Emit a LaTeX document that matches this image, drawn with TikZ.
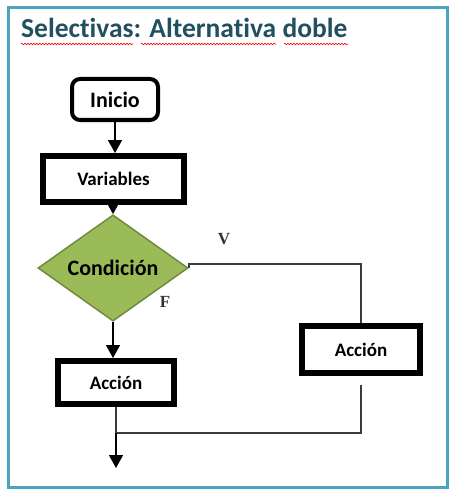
\documentclass[tikz,border=0pt]{standalone}
\usepackage{fontspec}
\newfontfamily\calibri[Ligatures=NoCommon]{Carlito}
\newfontfamily\timesfont{Liberation Serif}
\usepackage{tikz}
\usetikzlibrary{arrows.meta,positioning,shapes.geometric,calc,decorations.pathmorphing}
\definecolor{frameteal}{RGB}{75,165,190}
\definecolor{titleteal}{RGB}{33,80,96}
\definecolor{olivefill}{RGB}{155,187,89}
\definecolor{olivedraw}{RGB}{113,137,63}
\definecolor{linegray}{RGB}{60,60,60}

\begin{document}
\begin{tikzpicture}[x=1pt, y=-1pt,
  box/.style={rectangle, draw=black, line width=6pt, fill=white, inner sep=0pt,
              font=\calibri\fontsize{19}{22}\selectfont\bfseries},
  startbox/.style={box, rounded corners=8pt, line width=4pt,
              font=\calibri\fontsize{22}{25}\selectfont\bfseries},
  decision/.style={diamond, draw=olivedraw, line width=1.5pt, fill=olivefill, inner sep=0pt,
              minimum width=150pt, minimum height=93pt,
              font=\calibri\fontsize{22}{25}\selectfont\bfseries},
  arrow/.style={-{Triangle[width=14pt, length=13pt]}, line width=1.6pt, black},
  line/.style={line width=1.6pt, linegray},
  label/.style={font=\timesfont\fontsize{17}{19}\selectfont\bfseries, color=black!80},
  squiggle/.style={red, line width=0.6pt, decorate,
              decoration={snake, amplitude=0.8pt, segment length=3pt}}
]
\useasboundingbox (0,0) rectangle (458,492);
% Frame and title
\draw[frameteal, line width=3pt] (8,8) rectangle (447,487);
\node[anchor=base west, inner sep=0pt, text=titleteal,
      font=\calibri\fontsize{27.5}{31}\selectfont\bfseries] (title) at (21,38)
      {Selectivas: Alternativa doble};
\draw[squiggle] (21,44) -- (133,44);
\draw[squiggle] (141,44) -- (276,44);
\draw[squiggle] (284,44) -- (348,44);

% Flow nodes
\node[startbox, minimum width=86pt, minimum height=41pt] (start) at (115,99.5) {Inicio};
\node[box, minimum width=141pt, minimum height=46pt] (vars) at (113.5,179) {Variables};
\node[decision] (cond) at (113,268) {Condici\'on};
\node[box, minimum width=116pt, minimum height=43pt] (act1) at (116,382.5) {Acci\'on};
\node[box, minimum width=118pt, minimum height=47pt] (act2) at (361,349.5) {Acci\'on};

% Branch labels
\node[label] (vlab) at (224,239) {V};
\node[label] (flab) at (165,302) {F};

% Helper points
\coordinate (gap) at (361,385);
\coordinate (join) at (116,433);
\coordinate (stop) at (116,468);

% Connectors
\draw[arrow] (start.south) -- (start.south |- vars.north);
\draw[arrow] (vars.south) -- (vars.south -| cond.north) -- (cond.north);
\draw[arrow] (cond.south) -- (cond.south |- act1.north);
\draw[line] (cond.east) -- ++(0,-4) -| (act2.north);
\draw[line] (act1.south) -- (join);
\draw[line] (gap) |- (join);
\draw[arrow] (join) -- (stop);
\end{tikzpicture}
\end{document}
